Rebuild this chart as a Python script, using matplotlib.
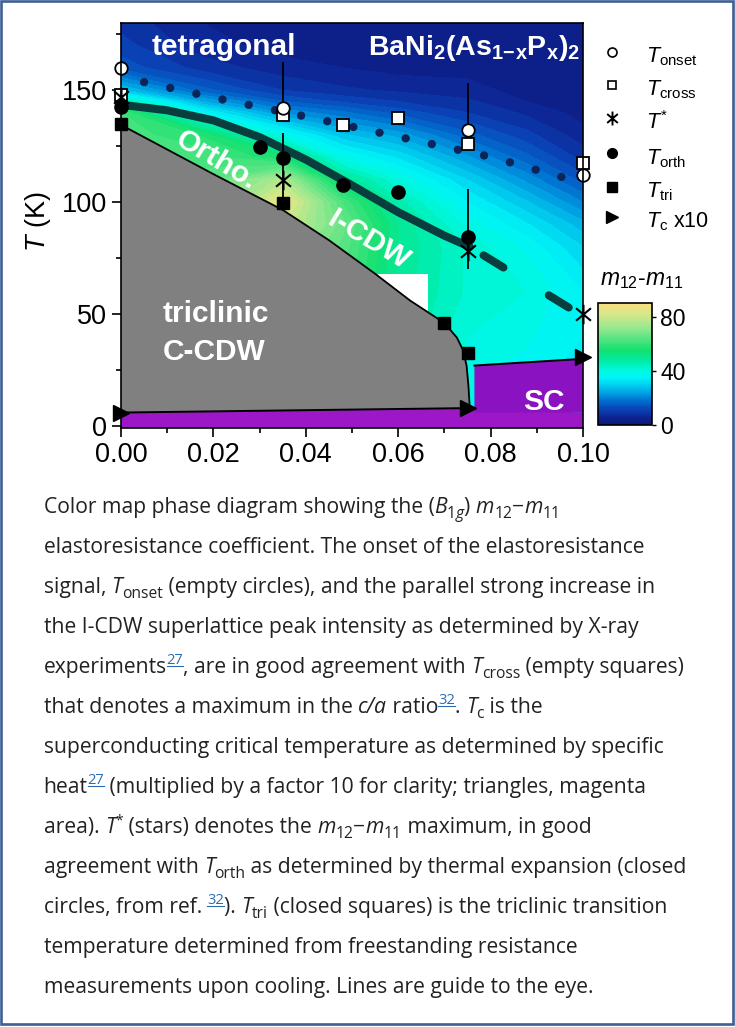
import numpy as np
import matplotlib
matplotlib.use("Agg")
import matplotlib.pyplot as plt
from matplotlib.colors import LinearSegmentedColormap, Normalize
from matplotlib.patches import Polygon, Rectangle
from matplotlib.lines import Line2D
from matplotlib.path import Path
from matplotlib.cm import ScalarMappable
from matplotlib.font_manager import FontProperties

plt.rcParams['font.family'] = ['Liberation Sans', 'DejaVu Sans']
plt.rcParams['mathtext.fontset'] = 'custom'
plt.rcParams['mathtext.rm'] = 'Liberation Sans'
plt.rcParams['mathtext.it'] = 'Liberation Sans:italic'
plt.rcParams['mathtext.bf'] = 'Liberation Sans:bold'
plt.rcParams['mathtext.sf'] = 'Liberation Sans'

# ------------------------------------------------------------------ data
# colour map of m12-m11
x_map = [0.0, 0.0175, 0.035, 0.048, 0.06, 0.075, 0.0875, 0.1]
T_map = [0, 20, 40, 60, 80, 90, 100, 110, 120, 130, 140, 145, 150, 160, 170, 180]
m_x000 = [50, 50, 50, 52, 54, 56, 58, 60, 62, 62, 60, 46, 28, 14, 11, 9]
m_x0175 = [55, 55, 56, 58, 60, 62, 63, 63, 62, 57, 36, 25, 16, 9, 6, 5]
m_x035 = [60, 62, 64, 68, 74, 80, 86, 76, 55, 38, 22, 15, 10, 6, 4, 3]
m_x048 = [56, 58, 60, 62, 64, 66, 62, 50, 38, 28, 18, 12, 8, 5, 3, 3]
m_x060 = [48, 48, 48, 49, 50, 50, 46, 40, 32, 24, 14, 10, 7, 4, 3, 3]
m_x075 = [37, 38, 40, 42, 42, 39, 35, 30, 23, 16, 10, 8, 6, 4, 3, 3]
m_x0875 = [34, 36, 38, 40, 37, 33, 28, 22, 16, 11, 7, 5, 4, 3, 3, 3]
m_x100 = [31, 33, 35, 35, 30, 26, 20, 14, 9, 6, 4, 3, 3, 3, 3, 3]
m_map = [m_x000, m_x0175, m_x035, m_x048, m_x060, m_x075, m_x0875, m_x100]

x_onset = [0.0, 0.035, 0.075, 0.1]
T_onset = [160, 142, 132, 112]
onset_err_dn = [0, 0, 0, 0]
onset_err_up = [0, 20.5, 21, 0]

x_cross = [0.0, 0.035, 0.048, 0.06, 0.075, 0.1]
T_cross = [148, 139, 134.5, 137.5, 126, 117.5]

x_star = [0.0, 0.035, 0.075, 0.1]
T_star = [147, 110, 78, 50]
star_err_dn = [0, 8, 8, 0]
star_err_up = [0, 21, 28, 0]

x_orth = [0.0, 0.03, 0.035, 0.048, 0.06, 0.075]
T_orth = [142.5, 124.5, 119.5, 107.5, 104.5, 84.5]

x_tri = [0.0, 0.035, 0.07, 0.075]
T_tri = [134.8, 99.7, 46, 32.5]

x_tc = [0.0, 0.075, 0.1]
T_tc10 = [6, 8, 31]

# guide lines and phase boundaries
cross_guide_x = [0.005, 0.02, 0.04, 0.06, 0.08, 0.0957]
cross_guide_T = [153.6, 146.7, 138.2, 129.2, 120.2, 111.0]
orth_guide_x = [0.0, 0.01, 0.02, 0.03, 0.04, 0.05, 0.06, 0.07, 0.0755]
orth_guide_T = [143.5, 141.0, 136.5, 129.0, 119.0, 107.5, 95.5, 85.0, 80.0]
orth_dash_x = [0.0755, 0.1]
orth_dash_T = [80.0, 49.0]
tri_bound_x = [0.0, 0.02, 0.035, 0.045, 0.055, 0.0626, 0.07, 0.0727, 0.074, 0.0748, 0.0752, 0.0755]
tri_bound_T = [134.5, 112.5, 96.5, 83.0, 68.0, 56.0, 46.0, 39.5, 34.0, 27.0, 18.0, 8.0]
tc_line_x = [0.0, 0.0755]
tc_line_T = [6.0, 8.0]
sc_x = [0.0765, 0.1]
sc_T = [27.0, 30.0]
sc_bottom_T = 6.0
nodata_x = [0.0557, 0.0665]
nodata_T = 68

x_ticks = [0.0, 0.02, 0.04, 0.06, 0.08, 0.10]
x_tick_labels = ['0.00', '0.02', '0.04', '0.06', '0.08', '0.10']
x_minor = [0.01, 0.03, 0.05, 0.07, 0.09]
y_ticks = [0, 50, 100, 150]
y_tick_labels = ['0', '50', '100', '150']
y_minor = [25, 75, 125, 175]
cb_ticks = [0, 40, 80]

legend_labels = [r'$T_{\rm onset}$', r'$T_{\rm cross}$', r'$T^{*}$',
                 r'$T_{\rm orth}$', r'$T_{\rm tri}$', r'$T_{\rm c}$ x10']

cmap_nodes = [(0, '#0c1a78'), (5, '#0d2290'), (12, '#0a45b8'), (18, '#0070d0'),
              (24, '#00a4e4'), (30, '#00d4f0'), (35, '#00f4f8'), (40, '#00f8e0'),
              (47, '#00eca8'), (55, '#12e070'), (63, '#50e480'), (72, '#98e890'),
              (82, '#d8e888'), (90, '#f8e080')]

caption_lines = [
    [("Color map phase diagram showing the (", 'n'), ("B", 'i'), ("1", 'sub'), ("g", 'isub'),
     (") ", 'n'), ("m", 'i'), ("12", 'sub'), ("\u2212", 'n'), ("m", 'i'), ("11", 'sub')],
    [("elastoresistance coefficient. The onset of the elastoresistance", 'n')],
    [("signal, ", 'n'), ("T", 'i'), ("onset", 'sub'),
     (" (empty circles), and the parallel strong increase in", 'n')],
    [("the I-CDW superlattice peak intensity as determined by X-ray", 'n')],
    [("experiments", 'n'), ("27", 'ref'), (", are in good agreement with ", 'n'), ("T", 'i'),
     ("cross", 'sub'), (" (empty squares)", 'n')],
    [("that denotes a maximum in the ", 'n'), ("c/a", 'i'), (" ratio", 'n'), ("32", 'ref'),
     (". ", 'n'), ("T", 'i'), ("c", 'sub'), (" is the", 'n')],
    [("superconducting critical temperature as determined by specific", 'n')],
    [("heat", 'n'), ("27", 'ref'), (" (multiplied by a factor 10 for clarity; triangles, magenta", 'n')],
    [("area). ", 'n'), ("T", 'i'), ("*", 'sup'), (" (stars) denotes the ", 'n'), ("m", 'i'),
     ("12", 'sub'), ("\u2212", 'n'), ("m", 'i'), ("11", 'sub'), (" maximum, in good", 'n')],
    [("agreement with ", 'n'), ("T", 'i'), ("orth", 'sub'),
     (" as determined by thermal expansion (closed", 'n')],
    [("circles, from ref. ", 'n'), ("32", 'ref'), ("). ", 'n'), ("T", 'i'), ("tri", 'sub'),
     (" (closed squares) is the triclinic transition", 'n')],
    [("temperature determined from freestanding resistance", 'n')],
    [("measurements upon cooling. Lines are guide to the eye.", 'n')],
]

# ------------------------------------------------------------------ figure
W, H = 735, 1027
fig = plt.figure(figsize=(W / 100, H / 100), dpi=100)
fig.patch.set_facecolor('white')


def fx(px):
    return px / W


def fy(py):
    return 1 - py / H


ax = fig.add_axes([fx(121), fy(428), 462 / W, 405 / H])
ax.set_xlim(0, 0.1)
ax.set_ylim(-0.9, 180)

cmap = LinearSegmentedColormap.from_list('m12m11', [(v / 90.0, c) for v, c in cmap_nodes])
norm = Normalize(0, 90)
Z = np.array(m_map, dtype=float).T
ax.contourf(x_map, T_map, Z, levels=np.arange(0, 92.5, 2.5), cmap=cmap, norm=norm,
            zorder=0, antialiased=False)

# missing data region
ax.add_patch(Rectangle((nodata_x[0], 0), nodata_x[1] - nodata_x[0], nodata_T,
                       fc='white', ec='none', zorder=1))

# triclinic region
tri_verts = list(zip(tri_bound_x, tri_bound_T)) + [(tc_line_x[0], tc_line_T[0])]
ax.add_patch(Polygon(tri_verts, closed=True, fc='#808080', ec='none', zorder=2))
ax.plot(tri_bound_x, tri_bound_T, color='k', lw=1.3, zorder=3)

# superconducting regions
strip = [(0, -1), (0.1, -1), (0.1, sc_bottom_T), (tc_line_x[1], tc_line_T[1]),
         (tc_line_x[0], tc_line_T[0])]
ax.add_patch(Polygon(strip, closed=True, fc='#9c18c6', ec='none', zorder=2))
sc_box = [(sc_x[0], sc_bottom_T), (sc_x[0], sc_T[0]), (sc_x[1], sc_T[1]), (sc_x[1], sc_bottom_T)]
ax.add_patch(Polygon(sc_box, closed=True, fc='#8b12c0', ec='none', zorder=2))
ax.plot(tc_line_x, tc_line_T, color='k', lw=1.4, zorder=3)
ax.plot(sc_x, sc_T, color='k', lw=1.4, zorder=3)

# guide lines
ax.plot(cross_guide_x, cross_guide_T, color='#0b2558', lw=6, linestyle=(0, (0.01, 3.2)),
        dash_capstyle='round', zorder=3)
ax.plot(orth_guide_x, orth_guide_T, color='#0a3d3d', lw=5.8, solid_capstyle='round',
        solid_joinstyle='round', zorder=3)
ax.plot(orth_dash_x, orth_dash_T, color='#0a3d3d', lw=5.8, linestyle=(7.5, (2.9, 6.6)),
        dash_capstyle='round', zorder=3)

# error bars
ax.errorbar(x_onset, T_onset, yerr=[onset_err_dn, onset_err_up], fmt='none', ecolor='k',
            elinewidth=1.3, capsize=0, zorder=4)
ax.errorbar(x_star, T_star, yerr=[star_err_dn, star_err_up], fmt='none', ecolor='k',
            elinewidth=1.3, capsize=0, zorder=4)

# asterisk marker: vertical arm plus two diagonals
ang = np.deg2rad(40)
star_path = Path([(0, -1), (0, 1), (-np.cos(ang), -np.sin(ang)), (np.cos(ang), np.sin(ang)),
                  (-np.cos(ang), np.sin(ang)), (np.cos(ang), -np.sin(ang))],
                 [Path.MOVETO, Path.LINETO, Path.MOVETO, Path.LINETO, Path.MOVETO, Path.LINETO])

mk = dict(ls='none', clip_on=False)
ax.plot(x_cross, T_cross, marker='s', ms=8, mfc='white', mec='k', mew=1.3, zorder=5, **mk)
ax.plot(x_tri, T_tri, marker='s', ms=9, mfc='k', mec='k', mew=1, zorder=5, **mk)
ax.plot(x_onset, T_onset, marker='o', ms=9, mfc='white', mec='k', mew=1.3, zorder=6, **mk)
ax.plot(x_orth, T_orth, marker='o', ms=9.5, mfc='k', mec='k', mew=1, zorder=6, **mk)
ax.plot(x_tc, T_tc10, marker='>', ms=11, mfc='k', mec='k', mew=1, zorder=6, **mk)
ax.plot(x_star, T_star, marker=star_path, ms=14, mfc='none', mec='k', mew=1.5, zorder=7, **mk)

# labels inside the plot
wb = dict(color='white', fontweight='bold', fontsize=21.5, zorder=8)
ax.text(0.0222, 165.5, 'tetragonal', ha='center', va='baseline', **wb)
wt = dict(wb)
wt['fontsize'] = 20.5
ax.text(0.0765, 165.5, r'BaNi$_\mathbf{2}$(As$_\mathbf{1\!-\!x}$P$_\mathbf{x}$)$_\mathbf{2}$',
        ha='center', va='baseline', **wt)
ax.text(0.0206, 118.5, 'Ortho.', ha='center', va='center', rotation=-31,
        rotation_mode='anchor', **wb)
ax.text(0.0535, 83, 'I-CDW', ha='center', va='center', rotation=-31,
        rotation_mode='anchor', **wb)
ax.text(0.0091, 46.5, 'triclinic', ha='left', va='baseline', **wb)
ax.text(0.0091, 29.5, 'C-CDW', ha='left', va='baseline', **wb)
ax.text(0.087, 7.1, 'SC', ha='left', va='baseline', **wb)

# axes styling
for sp in ax.spines.values():
    sp.set_linewidth(1.2)
    sp.set_zorder(9)
ax.set_xticks(x_ticks)
ax.set_xticklabels(x_tick_labels)
ax.set_xticks(x_minor, minor=True)
ax.set_yticks(y_ticks)
ax.set_yticklabels(y_tick_labels)
ax.set_yticks(y_minor, minor=True)
ax.tick_params(which='both', direction='out', top=False, right=False, width=1.2)
ax.tick_params(which='major', length=6.5, labelsize=19.5, pad=3.5)
ax.tick_params(which='minor', length=3.5)
fig.text(fx(38), fy(222), r'$T$ (K)', rotation=90, ha='center', va='center', fontsize=19.5)

# colour bar
cax = fig.add_axes([fx(598), fy(425), 54 / W, 122 / H])
sm = ScalarMappable(norm=norm, cmap=cmap)
cb = fig.colorbar(sm, cax=cax, ticks=cb_ticks)
cb.outline.set_linewidth(1.2)
cax.tick_params(direction='out', length=3, width=1.0, labelsize=16.5, pad=3)
fig.text(fx(642), fy(285), r'$m_{12}$-$m_{11}$', ha='center', va='baseline', fontsize=16.5)

# legend (manual)
leg_y = [51.7, 84.5, 118.3, 153.0, 186.5, 216.7]
leg_styles = [dict(marker='o', ms=6.5, mfc='white', mec='k', mew=1.2),
              dict(marker='s', ms=6, mfc='white', mec='k', mew=1.2),
              dict(marker=star_path, ms=10, mfc='none', mec='k', mew=1.4),
              dict(marker='o', ms=7, mfc='k', mec='k', mew=1),
              dict(marker='s', ms=6.5, mfc='k', mec='k', mew=1),
              dict(marker='>', ms=8, mfc='k', mec='k', mew=1)]
for yy, st, lab in zip(leg_y, leg_styles, legend_labels):
    fig.add_artist(Line2D([fx(612)], [fy(yy)], transform=fig.transFigure, ls='none', **st))
    fig.text(fx(646), fy(yy + 11), lab, ha='left', va='baseline', fontsize=15.5)

# ------------------------------------------------------------------ caption
cap_font = 'Open Sans'
text_color = '#222222'
link_color = '#2b6cb0'
renderer = fig.canvas.get_renderer()
STY = {
    'n': dict(scale=1.0, style='normal', rise=0.0, color=text_color),
    'i': dict(scale=1.0, style='italic', rise=0.0, color=text_color),
    'sub': dict(scale=0.74, style='normal', rise=-0.22, color=text_color),
    'isub': dict(scale=0.74, style='italic', rise=-0.22, color=text_color),
    'sup': dict(scale=0.66, style='normal', rise=0.42, color=text_color),
    'ref': dict(scale=0.7, style='normal', rise=0.42, color=link_color, underline=True),
}


def fprop(size, style):
    return FontProperties(family=cap_font, size=size, style=style)


def adv(s, prop):
    w1 = renderer.get_text_width_height_descent('|' + s + '|', prop, ismath=False)[0]
    w0 = renderer.get_text_width_height_descent('||', prop, ismath=False)[0]
    return w1 - w0


base = 14.0
cap_size = base * 607.0 / adv(caption_lines[1][0][0], fprop(base, 'normal'))
cap_x0, cap_y0, cap_dy = 43.5, 513, 40
for i, line in enumerate(caption_lines):
    yb = cap_y0 + i * cap_dy
    x = cap_x0
    for s, st in line:
        d = STY[st]
        prop = fprop(cap_size * d['scale'], d['style'])
        w = adv(s, prop)
        yp = yb - d['rise'] * cap_size * 100 / 72
        fig.text(fx(x), fy(yp), s, fontproperties=prop, color=d['color'], ha='left', va='baseline')
        if d.get('underline'):
            fig.add_artist(Line2D([fx(x), fx(x + w)], [fy(yp + 1.5)] * 2,
                                  transform=fig.transFigure, color=d['color'], lw=0.8))
        x += w

# outer frame
fig.add_artist(Rectangle((fx(1.2), fy(1024)), (733 - 1.2) / W, (1024 - 1.2) / H,
                         transform=fig.transFigure, fill=False, ec='#3e5f94', lw=1.9))

fig.savefig('out.png', dpi=100)
